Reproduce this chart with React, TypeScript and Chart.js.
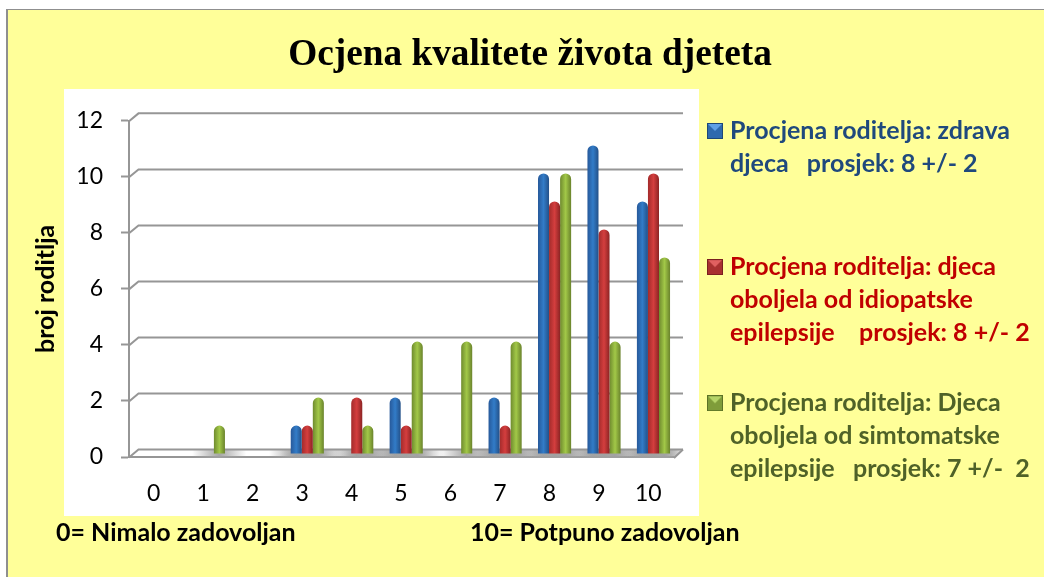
import React, { useEffect, useRef } from "react";
import { Chart, registerables } from "chart.js";

Chart.register(...registerables);

const categories = ["0", "1", "2", "3", "4", "5", "6", "7", "8", "9", "10"];
const healthy = [0, 0, 0, 1, 0, 2, 0, 2, 10, 11, 9];
const idiopathic = [0, 0, 0, 1, 2, 1, 0, 1, 9, 8, 10];
const symptomatic = [0, 1, 0, 2, 1, 4, 4, 4, 10, 4, 7];

const healthyLines = ["Procjena roditelja: zdrava", "djeca   prosjek: 8 +/- 2", ""];
const idiopathicLines = ["Procjena roditelja: djeca", "oboljela od idiopatske", "epilepsije    prosjek: 8 +/- 2"];
const symptomaticLines = ["Procjena roditelja: Djeca", "oboljela od simtomatske", "epilepsije   prosjek: 7 +/-  2"];

const titleText = "Ocjena kvalitete života djeteta";
const yAxisTitle = "broj roditlja";
const noteLeft = "0= Nimalo zadovoljan";
const noteRight = "10= Potpuno zadovoljan";

const SANS = "Lato";
const GREY = "#969696";
const DEPTH_X = 9.5;
const DEPTH_Y = 7.4;

const seriesStyles = [
  { edgeL: "#27599a", mid: "#327cc8", edgeR: "#235088", text: "#1F497D", icon: ["#2E69AE", "#5FA0E6", "#1D4778"] },
  { edgeL: "#a32b2b", mid: "#d43e3e", edgeR: "#8c2424", text: "#C00000", icon: ["#A83030", "#E06060", "#7A1F1F"] },
  { edgeL: "#6f8b2e", mid: "#a2c848", edgeR: "#6a832c", text: "#4F6228", icon: ["#7F9C3A", "#B5D468", "#5C7226"] },
];

function makeIcon(colors: string[]) {
  const c = document.createElement("canvas");
  c.width = 16;
  c.height = 16;
  const g = c.getContext("2d")!;
  g.fillStyle = colors[0];
  g.fillRect(0, 0, 16, 16);
  g.fillStyle = colors[1];
  g.beginPath();
  g.moveTo(0, 0);
  g.lineTo(16, 0);
  g.lineTo(8, 8);
  g.closePath();
  g.fill();
  g.strokeStyle = colors[2];
  g.strokeRect(0.5, 0.5, 15, 15);
  return c;
}

const framePlugin = {
  id: "frame",
  afterLayout(chart: any) {
    const lg = chart.legend;
    const pad = lg.options.labels.padding;
    lg.left = 712.5 - pad;
    lg.right = chart.width;
    lg.top = 118.5 - pad;
    lg.bottom = chart.height;
    chart.titleBlock.left = 16;
    chart.titleBlock.right = chart.width;
  },
  beforeDraw(chart: any) {
    const { ctx, width, height } = chart;
    ctx.save();
    ctx.fillStyle = "#FFFF99";
    ctx.fillRect(7, 9, width - 7, height - 9);
    ctx.fillStyle = "#8f8f8f";
    ctx.fillRect(6, 9, width - 6, 1);
    ctx.fillRect(6, 9, 2, height - 9);
    ctx.fillStyle = "#ffffff";
    ctx.fillRect(64, 89, 635, 427);
    ctx.restore();
  },
  beforeDatasetsDraw(chart: any) {
    const { ctx, scales } = chart;
    const { x, y } = scales;
    const left = x.left;
    const right = x.right;
    const base = y.getPixelForValue(0);

    ctx.save();
    // floor
    ctx.beginPath();
    ctx.moveTo(left, base + 1);
    ctx.lineTo(left + DEPTH_X, base - DEPTH_Y);
    ctx.lineTo(right + DEPTH_X + 0.5, base - DEPTH_Y);
    ctx.lineTo(right + 1, base + 1);
    ctx.closePath();
    ctx.save();
    ctx.clip();
    chart.data.datasets.forEach((ds: any, i: number) => {
      chart.getDatasetMeta(i).data.forEach((bar: any, j: number) => {
        if (ds.data[j] == null) return;
        const cx = bar.x + 5;
        const g = ctx.createLinearGradient(cx - 27, 0, cx + 27, 0);
        g.addColorStop(0, "rgba(160,160,160,0)");
        g.addColorStop(0.5, "rgba(160,160,160,0.95)");
        g.addColorStop(1, "rgba(160,160,160,0)");
        ctx.fillStyle = g;
        ctx.fillRect(cx - 27, base - 10, 54, 14);
      });
    });
    ctx.restore();

    // back wall lines and their links to the front axis
    ctx.strokeStyle = GREY;
    ctx.lineWidth = 2;
    y.ticks.forEach((t: any) => {
      const py = y.getPixelForValue(t.value);
      ctx.beginPath();
      ctx.moveTo(left, py + 0.5);
      ctx.lineTo(left + DEPTH_X, py - DEPTH_Y);
      ctx.lineTo(right + DEPTH_X + 0.5, py - DEPTH_Y);
      ctx.stroke();
    });
    ctx.beginPath();
    ctx.moveTo(right + DEPTH_X + 0.5, base - DEPTH_Y);
    ctx.lineTo(right + 1, base + 1);
    ctx.stroke();

    // cylinder shading for every bar
    chart.data.datasets.forEach((_: any, i: number) => {
      const s = seriesStyles[i];
      chart.getDatasetMeta(i).data.forEach((bar: any) => {
        const half = bar.width / 2;
        const g = ctx.createLinearGradient(bar.x - half, 0, bar.x + half, 0);
        g.addColorStop(0, s.edgeL);
        g.addColorStop(0.5, s.mid);
        g.addColorStop(1, s.edgeR);
        bar.options = { ...bar.options, backgroundColor: g };
      });
    });
    ctx.restore();
    ctx.save();
    ctx.translate(5.2, -3.4);
  },
  afterDatasetsDraw(chart: any) {
    chart.ctx.restore();
  },
  afterDraw(chart: any) {
    const { ctx } = chart;
    ctx.save();
    ctx.fillStyle = "#000000";
    ctx.font = `bold 25px ${SANS}`;
    ctx.textBaseline = "middle";
    ctx.textAlign = "left";
    ctx.fillText(noteLeft, 56, 533);
    ctx.fillText(noteRight, 470, 533);
    ctx.restore();
  },
};

export default function App() {
  const ref = useRef<HTMLCanvasElement | null>(null);

  useEffect(() => {
    const icons = seriesStyles.map((s) => makeIcon(s.icon));
    const lines = [healthyLines, idiopathicLines, symptomaticLines];
    const toBars = (values: number[]) => values.map((v) => (v > 0 ? v : null));
    const barStyle = {
      base: -0.08,
      barPercentage: 1,
      categoryPercentage: 0.67,
      borderRadius: { topLeft: 6, topRight: 6, bottomLeft: 0, bottomRight: 0 },
      borderSkipped: "bottom",
    };
    const chart = new Chart(ref.current!, {
      type: "bar",
      data: {
        labels: categories,
        datasets: [
          { label: healthyLines.join(" "), data: toBars(healthy), backgroundColor: seriesStyles[0].mid, ...barStyle },
          { label: idiopathicLines.join(" "), data: toBars(idiopathic), backgroundColor: seriesStyles[1].mid, ...barStyle },
          { label: symptomaticLines.join(" "), data: toBars(symptomatic), backgroundColor: seriesStyles[2].mid, ...barStyle },
        ],
      } as any,
      options: {
        responsive: false,
        animation: false,
        layout: { padding: { left: 16, right: 100, top: 0, bottom: 0 } },
        plugins: {
          tooltip: { enabled: false },
          title: {
            display: true,
            text: titleText,
            color: "#000000",
            font: { family: "Liberation Serif", size: 37.3, weight: "bold", lineHeight: 1.2 },
            padding: { top: 33, bottom: 43 },
          },
          legend: {
            position: "right",
            align: "start",
            maxWidth: 271,
            onClick: () => {},
            labels: {
              usePointStyle: true,
              boxWidth: 5,
              padding: 38,
              font: { family: SANS, size: 25, weight: "bold", lineHeight: "32.7px" },
              generateLabels: () =>
                lines.map((text, i) => ({
                  text,
                  datasetIndex: i,
                  fontColor: seriesStyles[i].text,
                  pointStyle: icons[i],
                  fillStyle: seriesStyles[i].mid,
                  strokeStyle: seriesStyles[i].mid,
                  lineWidth: 0,
                  hidden: false,
                })),
            },
          },
        },
        scales: {
          x: {
            afterFit: (s: any) => {
              s.height = 120;
            },
            grid: { display: false },
            border: { display: true, color: GREY, width: 2 },
            ticks: {
              color: "#000000",
              padding: 15,
              maxRotation: 0,
              autoSkip: false,
              font: { family: SANS, size: 23 },
            },
          },
          y: {
            min: 0,
            max: 12,
            afterFit: (s: any) => {
              s.width = 113;
            },
            title: {
              display: true,
              text: yAxisTitle,
              color: "#000000",
              padding: { top: 15, bottom: 0 },
              font: { family: SANS, size: 25, weight: "bold", lineHeight: 1.2 },
            },
            grid: {
              display: true,
              drawOnChartArea: false,
              drawTicks: true,
              tickLength: 8,
              tickColor: GREY,
              tickWidth: 2,
            },
            border: { display: true, color: GREY, width: 2 },
            ticks: {
              stepSize: 2,
              color: "#000000",
              padding: 18,
              font: { family: SANS, size: 23 },
            },
          },
        },
      } as any,
      plugins: [framePlugin],
    });
    return () => chart.destroy();
  }, []);

  return (
    <canvas
      ref={ref}
      width={1044}
      height={577}
      style={{ position: "absolute", left: 0, top: 0, display: "block" }}
    />
  );
}
